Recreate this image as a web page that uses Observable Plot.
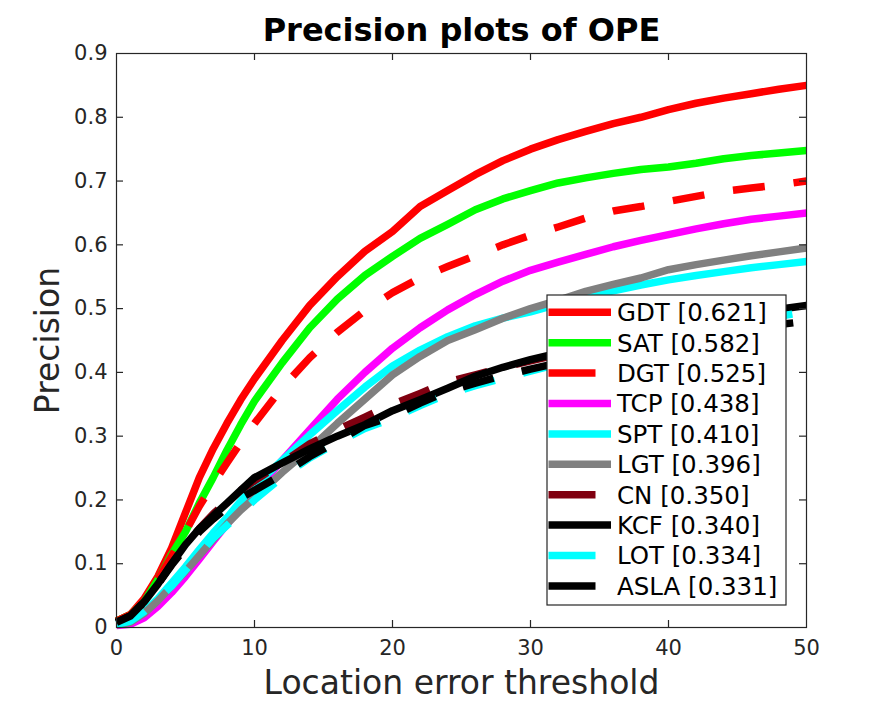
<!DOCTYPE html>
<html>
<head>
<meta charset="utf-8">
<script src="https://cdn.jsdelivr.net/npm/d3@7"></script>
<script src="https://cdn.jsdelivr.net/npm/@observablehq/plot@0.6"></script>
<style>
  body { margin: 0; background: #fff; }
  #chart svg { display: block; background: #fff; }
</style>
</head>
<body>
<div id="chart"></div>
<script>
const thresholds = [0,1,2,3,4,5,6,7,8,9,10,12,14,16,18,20,22,24,26,28,30,32,34,36,38,40,42,44,46,48,50];

const GDT  = [0.010,0.020,0.045,0.080,0.125,0.180,0.235,0.280,0.320,0.357,0.390,0.450,0.505,0.550,0.590,0.621,0.660,0.685,0.710,0.732,0.750,0.765,0.778,0.790,0.800,0.812,0.822,0.830,0.837,0.844,0.850];
const SAT  = [0.010,0.020,0.040,0.075,0.115,0.150,0.195,0.235,0.278,0.318,0.355,0.415,0.470,0.515,0.552,0.582,0.610,0.632,0.655,0.672,0.685,0.697,0.705,0.712,0.718,0.722,0.728,0.735,0.740,0.744,0.748];
const DGT  = [0.010,0.020,0.040,0.075,0.112,0.150,0.190,0.225,0.258,0.290,0.320,0.376,0.423,0.463,0.497,0.525,0.548,0.566,0.583,0.600,0.615,0.628,0.642,0.653,0.660,0.668,0.676,0.684,0.689,0.694,0.700];
const TCP  = [0.003,0.005,0.015,0.033,0.055,0.080,0.107,0.135,0.162,0.188,0.212,0.262,0.310,0.358,0.400,0.438,0.470,0.498,0.522,0.543,0.560,0.573,0.585,0.597,0.607,0.616,0.625,0.633,0.640,0.645,0.650];
const SPT  = [0.005,0.010,0.025,0.045,0.070,0.095,0.122,0.148,0.172,0.198,0.222,0.262,0.302,0.340,0.377,0.410,0.435,0.456,0.473,0.485,0.495,0.507,0.519,0.528,0.537,0.545,0.552,0.558,0.564,0.569,0.574];
const LGT  = [0.004,0.008,0.022,0.042,0.065,0.088,0.113,0.138,0.162,0.184,0.203,0.243,0.280,0.320,0.358,0.396,0.425,0.450,0.467,0.485,0.500,0.513,0.527,0.538,0.548,0.561,0.569,0.576,0.583,0.589,0.595];
const CN   = [0.008,0.018,0.040,0.068,0.100,0.130,0.155,0.178,0.198,0.215,0.230,0.258,0.288,0.310,0.330,0.350,0.367,0.385,0.396,0.408,0.418,0.428,0.438,0.448,0.457,0.465,0.472,0.478,0.484,0.490,0.495];
const KCF  = [0.008,0.018,0.040,0.068,0.100,0.130,0.155,0.175,0.195,0.215,0.235,0.258,0.280,0.300,0.318,0.340,0.357,0.375,0.394,0.408,0.420,0.430,0.440,0.450,0.460,0.468,0.476,0.484,0.492,0.499,0.505];
const LOT  = [0.005,0.010,0.025,0.045,0.065,0.090,0.115,0.140,0.160,0.180,0.200,0.236,0.266,0.290,0.312,0.328,0.348,0.366,0.379,0.391,0.402,0.413,0.424,0.435,0.445,0.455,0.464,0.472,0.480,0.488,0.495];
const ASLA = [0.008,0.018,0.040,0.068,0.098,0.125,0.150,0.170,0.188,0.203,0.215,0.240,0.268,0.292,0.317,0.331,0.352,0.370,0.383,0.395,0.405,0.415,0.424,0.433,0.441,0.449,0.456,0.463,0.469,0.475,0.480];

const names  = ["GDT","SAT","DGT","TCP","SPT","LGT","CN","KCF","LOT","ASLA"];
const scores = ["0.621","0.582","0.525","0.438","0.410","0.396","0.350","0.340","0.334","0.331"];
const colors = ["#ff0000","#00ff00","#ff0000","#ff00ff","#00ffff","#808080","#800010","#000000","#00ffff","#000000"];
const dashed = [false,false,true,false,false,false,true,false,true,true];
const values = [GDT,SAT,DGT,TCP,SPT,LGT,CN,KCF,LOT,ASLA];

const xTicks = [0,10,20,30,40,50];
const yTicks = [0,0.1,0.2,0.3,0.4,0.5,0.6,0.7,0.8,0.9];

const series = names.map((name, i) => ({
  name, color: colors[i], dashed: dashed[i],
  rows: thresholds.map((t, j) => ({t, p: values[i][j]}))
}));

const ink = "#262626";
const FONT = "DejaVu Sans";

const lineMarks = series.map(s => Plot.line(s.rows, {
  x: "t", y: "p", stroke: s.color, strokeWidth: 7.5,
  strokeDasharray: s.dashed ? "32,29" : null,
  strokeLinejoin: "round", strokeLinecap: "butt", curve: "linear"
}));

const fmt = d3.format("~g");

const svg = Plot.plot({
  width: 891, height: 703,
  marginLeft: 116, marginRight: 85, marginTop: 53, marginBottom: 76,
  style: {fontFamily: FONT, background: "#fff", color: ink},
  x: {domain: [0, 50]},
  y: {domain: [0, 0.9]},
  marks: [
    ...lineMarks,
    Plot.frame({stroke: ink, strokeWidth: 1.2}),
    Plot.ruleX(xTicks.slice(1, -1), {x: d => d, insetTop: 567, stroke: ink, strokeWidth: 1.2}),
    Plot.ruleX(xTicks.slice(1, -1), {x: d => d, insetBottom: 567, stroke: ink, strokeWidth: 1.2}),
    Plot.ruleY(yTicks.slice(1, -1), {y: d => d, insetRight: 683, stroke: ink, strokeWidth: 1.2}),
    Plot.ruleY(yTicks.slice(1, -1), {y: d => d, insetLeft: 683, stroke: ink, strokeWidth: 1.2}),
    Plot.axisX({ticks: xTicks, tickSize: 0, tickPadding: 13, fontSize: 21, tickFormat: fmt, label: null, fill: ink}),
    Plot.axisY({ticks: yTicks, tickSize: 0, tickPadding: 9, fontSize: 21, tickFormat: fmt, label: null, fill: ink}),
    Plot.text(["Precision plots of OPE"], {frameAnchor: "top", lineAnchor: "middle", textAnchor: "middle", dy: -23, fontSize: 32, fontWeight: "bold", fill: "#000", fontFamily: FONT}),
    Plot.text(["Location error threshold"], {frameAnchor: "bottom", lineAnchor: "middle", textAnchor: "middle", dy: 56, fontSize: 33, fill: ink, fontFamily: FONT}),
    Plot.text(["Precision"], {frameAnchor: "left", lineAnchor: "middle", textAnchor: "middle", dx: -68, rotate: -90, fontSize: 33, fill: ink, fontFamily: FONT})
  ]
});

// Legend box
const g = d3.select(svg).append("g").attr("font-family", FONT).attr("text-anchor", "start");
const lx = 547, ly = 295, lw = 239, lh = 310;
g.append("rect").attr("x", lx).attr("y", ly).attr("width", lw).attr("height", lh)
  .attr("fill", "#fff").attr("stroke", ink).attr("stroke-width", 1.2);
series.forEach((s, i) => {
  const y = 312.3 + i * 30.4;
  g.append("line").attr("x1", 548.5).attr("x2", 611).attr("y1", y).attr("y2", y)
    .attr("stroke", s.color).attr("stroke-width", 7.5)
    .attr("stroke-dasharray", s.dashed ? "47,100" : null);
  g.append("text").attr("x", 617).attr("y", y).attr("dy", "0.36em")
    .attr("text-anchor", "start")
    .attr("font-size", 24.5).attr("fill", "#000")
    .text(`${s.name} [${scores[i]}]`);
});

document.getElementById("chart").appendChild(svg);
</script>
</body>
</html>
